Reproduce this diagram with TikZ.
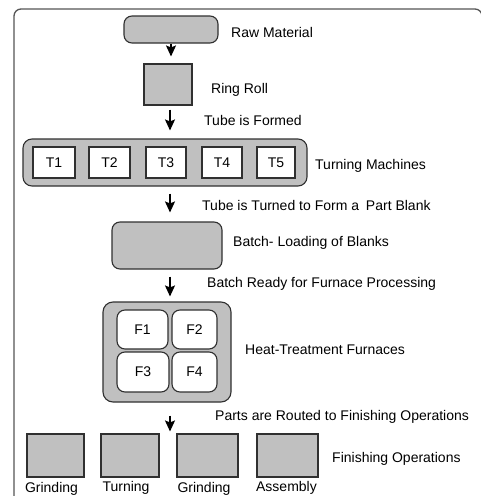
\documentclass[tikz,border=0pt]{standalone}
\usepackage{fontspec}
\setmainfont{Liberation Sans}
\usetikzlibrary{arrows.meta}
\definecolor{boxgray}{HTML}{C0C0C0}
\definecolor{edge}{HTML}{303030}
\definecolor{framec}{HTML}{555555}
\begin{document}
\begin{tikzpicture}[x=1pt,y=-1pt,
  font=\fontsize{14}{16}\selectfont,
  gbox/.style={draw=edge, fill=boxgray, line width=1.1pt, inner sep=0pt},
  rgbox/.style={gbox, rounded corners=8pt},
  wbox/.style={draw=edge, fill=white, line width=1.1pt, inner sep=0pt},
  rwbox/.style={wbox, rounded corners=8pt},
  lbl/.style={anchor=base west, inner sep=0pt},
  blbl/.style={anchor=base, inner sep=0pt},
  arr/.style={line width=1.3pt, -{Stealth[width=10pt,length=11pt,inset=2pt]}},
  framepath/.style={draw=framec, line width=1.3pt, rounded corners=7pt}
]
\useasboundingbox (0,0) rectangle (481,496);
\draw[framepath] (14,520) -- (14,9) -- (482,9) -- (482,520);

% Raw material and ring roll
\node[rgbox, minimum width=94pt, minimum height=27pt] (raw) at (171,29.5) {};
\node[gbox, minimum width=48pt, minimum height=41pt] (ring) at (168,84.5) {};

% Turning machines
\node[gbox, rounded corners=9pt, minimum width=284pt, minimum height=47pt] (tm) at (165,162.5) {};
\node[wbox, minimum width=42pt, minimum height=31pt] (t1) at (54,162.5) {T1};
\node[wbox, minimum width=41pt, minimum height=31pt] (t2) at (109.5,162.5) {T2};
\node[wbox, minimum width=40pt, minimum height=31pt] (t3) at (166,162.5) {T3};
\node[wbox, minimum width=40pt, minimum height=31pt] (t4) at (222,162.5) {T4};
\node[wbox, minimum width=38pt, minimum height=31pt] (t5) at (276,162.5) {T5};

% Batch loading
\node[rgbox, minimum width=110pt, minimum height=47pt] (batch) at (167,245.5) {};

% Furnaces
\node[gbox, rounded corners=10pt, minimum width=128pt, minimum height=100pt] (furn) at (167,352) {};
\node[rwbox, minimum width=51pt, minimum height=39pt] (f1) at (142.5,329.5) {F1};
\node[rwbox, minimum width=45pt, minimum height=39pt] (f2) at (194.5,329.5) {F2};
\node[rwbox, minimum width=52pt, minimum height=40pt] (f3) at (143,372) {F3};
\node[rwbox, minimum width=45pt, minimum height=40pt] (f4) at (194.5,372) {F4};

% Finishing operations
\node[gbox, minimum width=57pt, minimum height=43pt] (fin1) at (55.5,455.5) {};
\node[gbox, minimum width=58pt, minimum height=43pt] (fin2) at (130,455.5) {};
\node[gbox, minimum width=61pt, minimum height=43pt] (fin3) at (207.5,455.5) {};
\node[gbox, minimum width=61pt, minimum height=43pt] (fin4) at (287.5,455.5) {};

\node[blbl] (lg1) at (51.5,492) {Grinding};
\node[blbl] (lt) at (126,491.5) {Turning};
\node[blbl] (lg2) at (204,492.5) {Grinding};
\node[blbl] (la) at (286.5,491) {Assembly};

% Side labels
\node[lbl] (l1) at (231,37) {Raw Material};
\node[lbl] (l2) at (211,93) {Ring Roll};
\node[lbl] (l3) at (204,125) {Tube is Formed};
\node[lbl] (l4) at (315,169) {Turning Machines};
\node[lbl] (l5) at (202,210) {Tube is Turned to Form a\hspace{3pt} Part Blank};
\node[lbl] (l6) at (233,246) {Batch- Loading of Blanks};
\node[lbl] (l7) at (207,287) {Batch Ready for Furnace Processing};
\node[lbl] (l8) at (245,354) {Heat-Treatment Furnaces};
\node[lbl] (l9) at (215,420) {Parts are Routed to Finishing Operations};
\node[lbl] (l10) at (332,462) {Finishing Operations};

% Connectors
\coordinate (ax) at (170,0);
\draw[arr, shorten >=7pt] (raw.south) -- (raw.south |- ring.north);
\draw[arr, shorten <=4pt, shorten >=8pt] (ax |- ring.south) -- (ax |- tm.north);
\draw[arr, shorten <=7pt, shorten >=9pt] (ax |- tm.south) -- (ax |- batch.north);
\draw[arr, shorten <=7pt, shorten >=5pt] (ax |- batch.south) -- (ax |- furn.north);
\draw[arr, shorten <=13pt, shorten >=2pt] (ax |- furn.south) -- (ax |- fin3.north);
\end{tikzpicture}
\end{document}
